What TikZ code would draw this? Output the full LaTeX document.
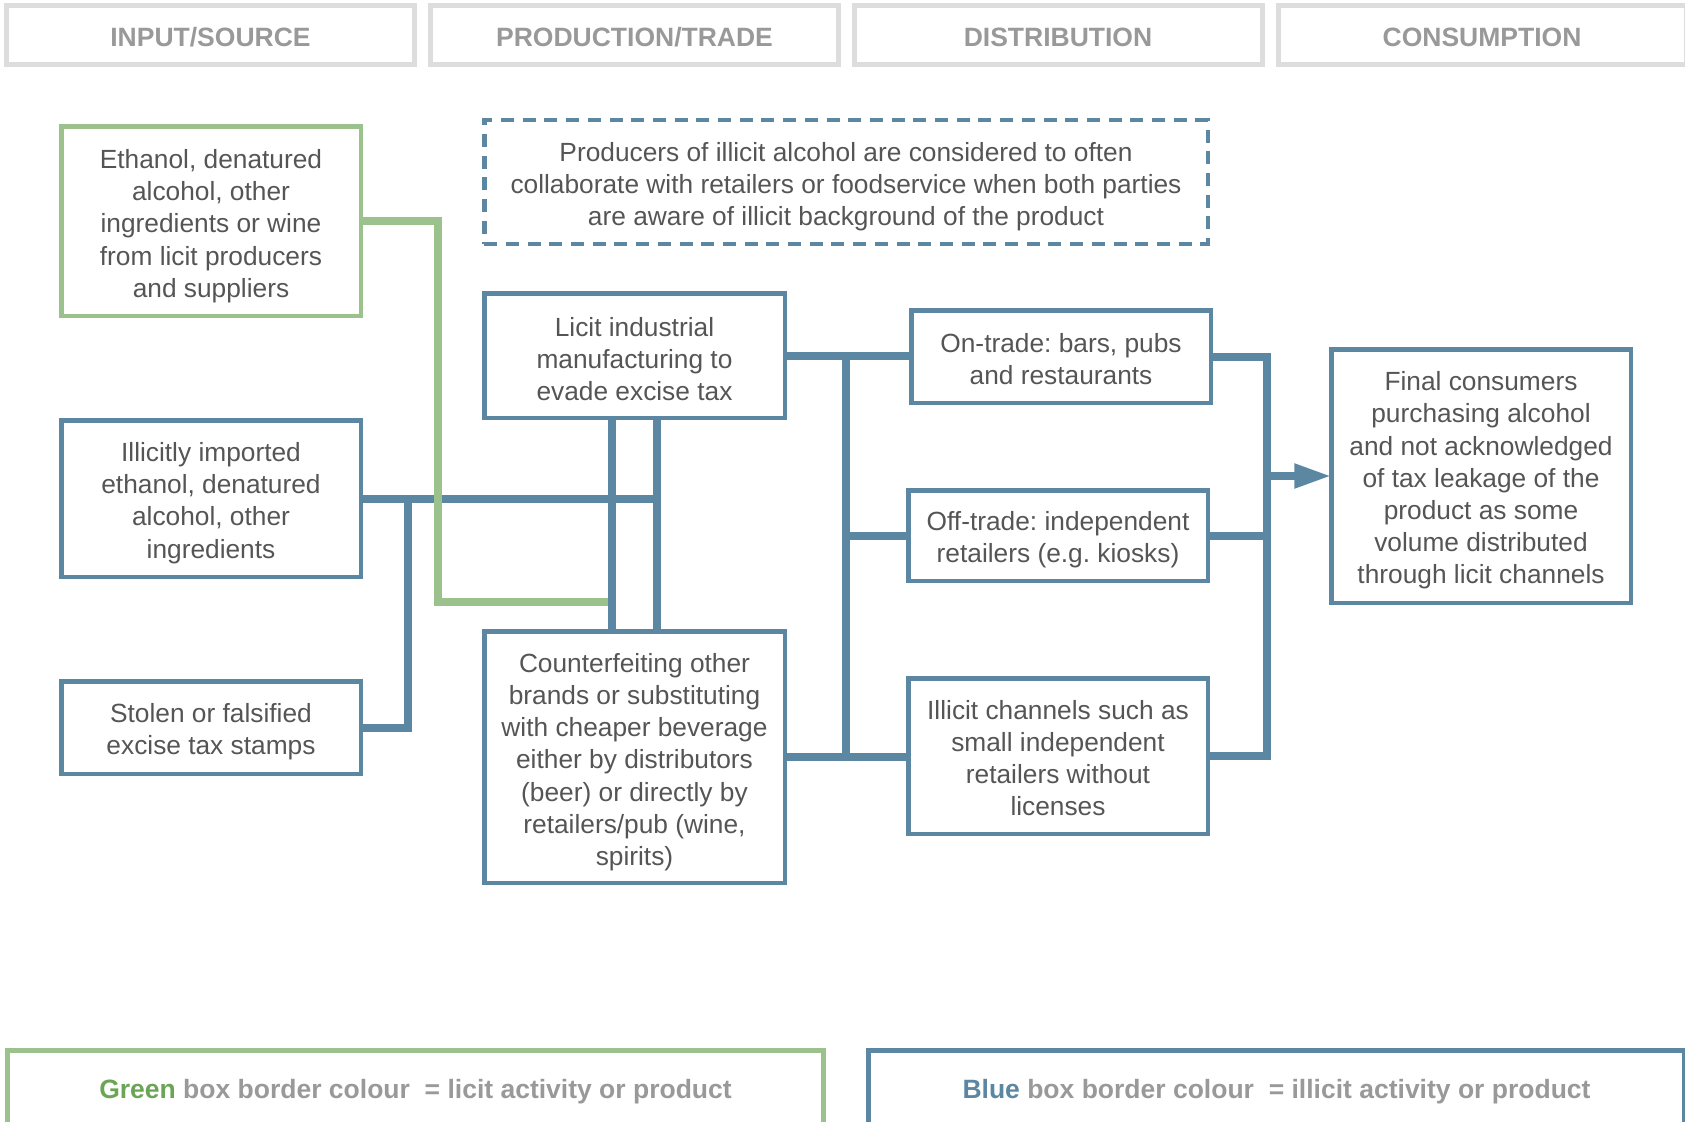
\documentclass[tikz,border=0pt]{standalone}
\usepackage{fontspec}
\setmainfont{Liberation Sans}
\frenchspacing
\usetikzlibrary{arrows.meta}
\definecolor{cblue}{HTML}{5C87A3}
\definecolor{cgreen}{HTML}{9BC18D}
\definecolor{cgreentxt}{HTML}{6AA555}
\definecolor{chead}{HTML}{DDDDDD}
\definecolor{cheadtxt}{HTML}{999999}
\definecolor{ctxt}{HTML}{555555}
\begin{document}
\begin{tikzpicture}[x=1pt,y=-1pt,
  every node/.style={inner sep=0pt,outer sep=0pt},
  boxtext/.style={font=\fontsize{26.3}{32.2}\selectfont, text=ctxt, align=center},
  bluebox/.style={draw=cblue, line width=4.5pt, rectangle},
  greenbox/.style={draw=cgreen, line width=4.5pt, rectangle},
  dashbox/.style={draw=cblue, line width=4.5pt, dash pattern=on 13pt off 8.7pt, rectangle},
  headbox/.style={draw=chead, line width=5pt, minimum width=408pt, minimum height=59pt},
  headtext/.style={font=\fontsize{26.5}{30}\selectfont\bfseries, text=cheadtxt},
  legbox/.style={line width=5pt, minimum width=816pt, minimum height=120pt, anchor=north},
  bline/.style={draw=cblue, line width=8pt},
  gline/.style={draw=cgreen, line width=8pt}
]
\useasboundingbox (0,0) rectangle (1685,1121);
\clip (0,0) rectangle (1685,1121);

% headers
\node[headbox] (h1) at (210.5,35) {};
\node[headbox] (h2) at (634.5,35) {};
\node[headbox] (h3) at (1058,35) {};
\node[headbox] (h4) at (1482,35) {};
\node[headtext] (h1t) at ([yshift=-2pt]h1.center) {INPUT/SOURCE};
\node[headtext] (h2t) at ([yshift=-2pt]h2.center) {PRODUCTION/TRADE};
\node[headtext] (h3t) at ([yshift=-2pt]h3.center) {DISTRIBUTION};
\node[headtext] (h4t) at ([yshift=-2pt]h4.center) {CONSUMPTION};

% boxes
\node[greenbox, minimum width=299.5pt, minimum height=189.5pt] (eth) at (211,221) {};
\node[bluebox, minimum width=299.5pt, minimum height=156.5pt] (imp) at (211,498.5) {};
\node[bluebox, minimum width=299.5pt, minimum height=92.5pt] (stol) at (211,727.5) {};
\node[dashbox, minimum width=723.5pt, minimum height=123.5pt] (dash) at (846,182) {};
\node[bluebox, minimum width=300.5pt, minimum height=124.5pt] (lic) at (634.5,355.5) {};
\node[bluebox, minimum width=300.5pt, minimum height=251.5pt] (cnt) at (634.5,757) {};
\node[bluebox, minimum width=299.5pt, minimum height=92.5pt] (on) at (1061,356.5) {};
\node[bluebox, minimum width=299.5pt, minimum height=90.5pt] (off) at (1058,535.5) {};
\node[bluebox, minimum width=299.5pt, minimum height=155.5pt] (ill) at (1058,756) {};
\node[bluebox, minimum width=299.5pt, minimum height=253.5pt] (fin) at (1481,476) {};

% box texts
\node[boxtext] (etht) at ([yshift=-5pt]eth.center)
  {Ethanol, denatured\\alcohol, other\\ingredients or wine\\from licit producers\\and suppliers};
\node[boxtext] (impt) at ([yshift=-4.5pt]imp.center)
  {Illicitly imported\\ethanol, denatured\\alcohol, other\\ingredients};
\node[boxtext] (stolt) at ([yshift=-4.5pt]stol.center)
  {Stolen or falsified\\excise tax stamps};
\node[boxtext] (dasht) at ([yshift=-4.5pt]dash.center)
  {Producers of illicit alcohol are considered to often\\collaborate with retailers or foodservice when both parties\\are aware of illicit background of the product};
\node[boxtext] (lict) at ([yshift=-3.5pt]lic.center)
  {Licit industrial\\manufacturing to\\evade excise tax};
\node[boxtext] (cntt) at ([yshift=-5pt]cnt.center)
  {Counterfeiting other\\brands or substituting\\with cheaper beverage\\either by distributors\\(beer) or directly by\\retailers/pub (wine,\\spirits)};
\node[boxtext] (ont) at ([yshift=-2.5pt]on.center)
  {On-trade: bars, pubs\\and restaurants};
\node[boxtext] (offt) at ([yshift=-4.5pt]off.center)
  {Off-trade: independent\\retailers (e.g. kiosks)};
\node[boxtext] (illt) at ([yshift=-2pt]ill.center)
  {Illicit channels such as\\small independent\\retailers without\\licenses};
\node[boxtext] (fint) at ([yshift=-4.5pt]fin.center)
  {Final consumers\\purchasing alcohol\\and not acknowledged\\of tax leakage of the\\product as some\\volume distributed\\through licit channels};

% junction coordinates
\coordinate (j1) at (407.5,0);
\coordinate (v1) at (611.7,0);
\coordinate (v2) at (657,0);
\coordinate (t1) at (846,0);
\coordinate (t2) at (1267.3,0);
\coordinate (g1) at (437.8,0);
\coordinate (gend) at (607.7,602);

% blue connectors (input -> production)
\draw[bline] (imp.east) -- (v2 |- imp.east);
\draw[bline] (stol.east) -| (j1 |- imp.east);
\draw[bline] (v1 |- lic.south) -- (v1 |- cnt.north);
\draw[bline] (v2 |- lic.south) -- (v2 |- cnt.north);

% green connector
\draw[gline] (eth.east) -| (g1 |- gend) -- (gend);

% production -> distribution
\draw[bline] (lic.east) -- (lic.east -| on.west);
\draw[bline] (t1 |- lic.east) -- (t1 |- cnt.east);
\draw[bline] (t1 |- off.west) -- (off.west);
\draw[bline] (cnt.east) -- (cnt.east -| ill.west);

% distribution -> consumption
\draw[bline] (on.east) -| (t2 |- ill.east) -- (ill.east);
\draw[bline] (off.east) -- ([xshift=4pt]t2 |- off.east);
\draw[bline, -{Triangle[length=37pt,width=23pt]}] (t2 |- fin.west) -- (fin.west);

% legend
\node[legbox, draw=cgreen] (lg) at (415.5,1050.5) {};
\node[legbox, draw=cblue] (lb) at (1276.5,1050.5) {};
\node[headtext] (lgt) at (415.5,1092)
  {\textcolor{cgreentxt}{Green} box border colour \ = licit activity or product};
\node[headtext] (lbt) at (1276.5,1092)
  {\textcolor{cblue}{Blue} box border colour \ = illicit activity or product};
\end{tikzpicture}
\end{document}
